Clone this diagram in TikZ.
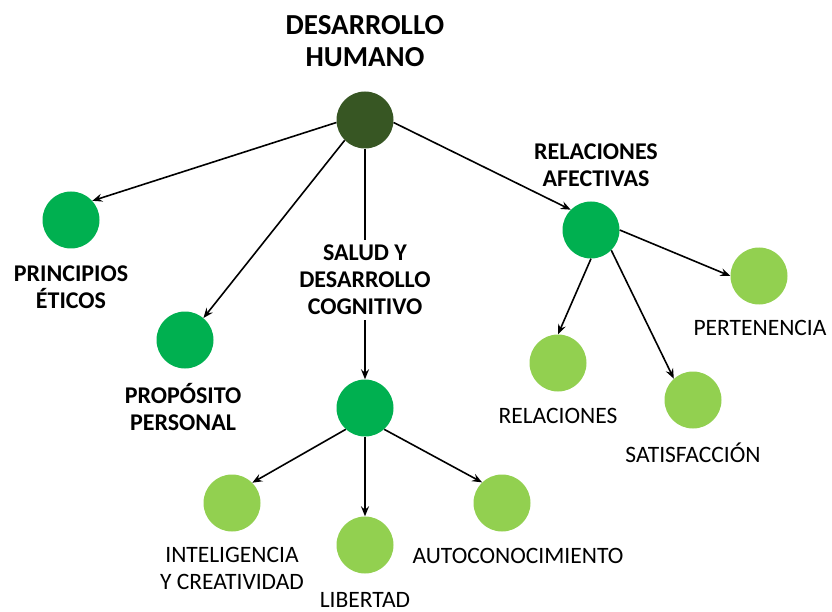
\documentclass[tikz,border=0pt]{standalone}
\usepackage{fontspec}
\setmainfont{Carlito}
\definecolor{rootgreen}{HTML}{375623}
\definecolor{midgreen}{HTML}{00B050}
\definecolor{lightgreen}{HTML}{92D050}
\usetikzlibrary{arrows.meta,positioning}

\begin{document}
\begin{tikzpicture}[x=1pt, y=-1pt,
      dot/.style={circle, minimum size=57pt, inner sep=0pt},
      rootdot/.style={dot, fill=rootgreen},
      maindot/.style={dot, fill=midgreen},
      subdot/.style={dot, fill=lightgreen},
      mainlbl/.style={align=center, inner sep=5pt, font=\fontsize{24}{27}\selectfont\bfseries},
      sublbl/.style={align=center, inner sep=4pt, font=\fontsize{23.5}{27}\selectfont},
      arr/.style={-{Stealth[length=10pt, width=8pt, inset=3.5pt]}, line width=1.6pt}
    ]
      \useasboundingbox (0,0) rectangle (832,612);
      % title and root
      \node[font=\fontsize{29}{32}\selectfont\bfseries, align=center] (title) at (365,41) {DESARROLLO\\HUMANO};
      \node[rootdot] (root) at (365,120) {};
      % first level
      \node[maindot] (etic) at (71,220) {};
      \node[mainlbl] (eticlbl) at (71,287) {PRINCIPIOS\\ÉTICOS};
      \node[maindot] (prop) at (185,340) {};
      \node[mainlbl] (proplbl) at (183,407) {PROPÓSITO\\PERSONAL};
      \node[mainlbl] (saludlbl) at (365,280) {SALUD Y\\DESARROLLO\\COGNITIVO};
      \node[maindot] (salud) at (365,408) {};
      \node[mainlbl] (aflbl) at (596,165) {RELACIONES\\AFECTIVAS};
      \node[maindot] (afect) at (591,230) {};
      % second level
      \node[subdot] (pert) at (759,276) {};
      \node[sublbl] (pertlbl) at (760,328) {PERTENENCIA};
      \node[subdot] (rel) at (558,363) {};
      \node[sublbl] (rellbl) at (558,416) {RELACIONES};
      \node[subdot] (sat) at (693,400) {};
      \node[sublbl] (satlbl) at (693,453) {SATISFACCIÓN};
      \node[subdot] (intel) at (232,503) {};
      \node[sublbl] (intellbl) at (232,568) {INTELIGENCIA\\Y CREATIVIDAD};
      \node[subdot] (libr) at (365,545) {};
      \node[sublbl, inner sep=0pt, anchor=base] (librlbl) at (365,607) {LIBERTAD};
      \node[subdot] (auto) at (502,503) {};
      \node[sublbl] (autolbl) at (518,556) {AUTOCONOCIMIENTO};
      % connectors
      \draw[arr] (root.185) -- (etic.42);
      \draw[arr] (root.225) -- (prop.50);
      \draw[line width=1.6pt] (root.south) -- (saludlbl.north);
      \draw[arr] (saludlbl.south) -- (salud.north);
      \draw[arr] (root.-5) -- (afect.135);
      \draw[arr] (afect.0) -- (pert.180);
      \draw[arr] (afect.270) -- (rel.90);
      \draw[arr] (afect.-45) -- (sat.132);
      \draw[arr] (salud.-132) -- (intel.45);
      \draw[arr] (salud.south) -- (libr.north);
      \draw[arr] (salud.-48) -- (auto.134);
    \end{tikzpicture}
\end{document}
